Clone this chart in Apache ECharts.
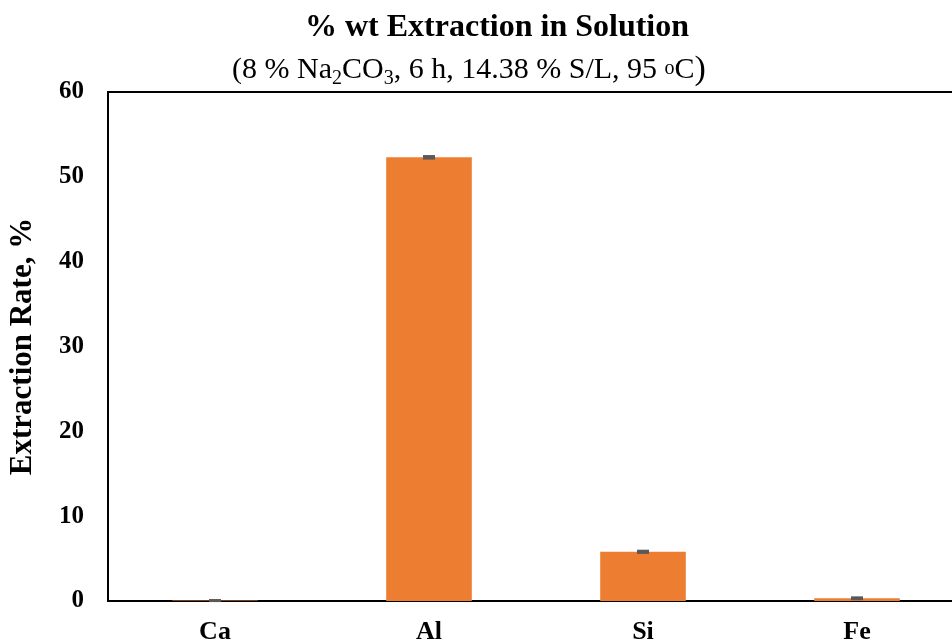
<!DOCTYPE html>
<html>
<head>
<meta charset="utf-8">
<script src="https://cdn.jsdelivr.net/npm/echarts@6/dist/echarts.min.js"></script>
<style>html,body{margin:0;padding:0;background:#fff}#c{width:952px;height:641px}</style>
</head>
<body>
<div id="c"></div>
<script>
const categories = ['Ca', 'Al', 'Si', 'Fe'];
const values = [0.05, 52.3, 5.8, 0.32];
const errors = [0.03, 0.12, 0.1, 0.08];
const yTicks = { min: 0, max: 60, interval: 10 };

const FONT = '"Liberation Serif", "Times New Roman", serif';
const chart = echarts.init(document.getElementById('c'), null, { renderer: 'canvas' });

const errData = categories.map((c, i) => [i, values[i], errors[i]]);

chart.setOption({
  animation: false,
  backgroundColor: '#fff',
  title: [
    {
      text: '% wt Extraction in Solution',
      left: 492, top: 7, textAlign: 'center',
      textStyle: { fontFamily: FONT, fontSize: 32, fontWeight: 'bold', color: '#000' }
    },
    {
      text: '{b|(8 % Na}{sub|2}{b|CO}{sub|3}{b|, 6 h, 14.38 % S/L, 95 }{sup|o}{b|C}{p|)}',
      left: 464, top: 46, textAlign: 'center',
      textStyle: {
        fontFamily: FONT, fontSize: 30, fontWeight: 'normal', color: '#000',
        rich: {
          b: { fontFamily: FONT, fontSize: 30, fontWeight: 'normal', color: '#000', lineHeight: 38, verticalAlign: 'middle' },
          p: { fontFamily: FONT, fontSize: 34, fontWeight: 'normal', color: '#000', lineHeight: 38, verticalAlign: 'middle' },
          sub: { fontFamily: FONT, fontSize: 20, fontWeight: 'normal', color: '#000', lineHeight: 20, verticalAlign: 'bottom' },
          sup: { fontFamily: FONT, fontSize: 20, fontWeight: 'normal', color: '#000', lineHeight: 20, verticalAlign: 'top', padding: [8, 0, 0, 0] }
        }
      }
    }
  ],
  grid: {
    left: 108, top: 92, width: 856, height: 509,
    outerBoundsMode: 'none', containLabel: false,
    show: true, borderColor: '#000', borderWidth: 2, backgroundColor: 'transparent'
  },
  xAxis: {
    type: 'category',
    data: categories,
    axisLine: { show: true, lineStyle: { color: '#000', width: 2 } },
    axisTick: { show: false },
    axisLabel: { fontFamily: FONT, fontSize: 26, fontWeight: 'bold', color: '#000', margin: 18 },
    splitLine: { show: false }
  },
  yAxis: {
    type: 'value',
    min: yTicks.min, max: yTicks.max, interval: yTicks.interval,
    name: 'Extraction Rate, %',
    nameLocation: 'middle', nameGap: 70, nameRotate: 90,
    nameTextStyle: { fontFamily: FONT, fontSize: 31, fontWeight: 'bold', color: '#000' },
    axisLine: { show: true, lineStyle: { color: '#000', width: 2 } },
    axisTick: { show: false },
    axisLabel: { fontFamily: FONT, fontSize: 25, fontWeight: 'bold', color: '#000', margin: 24 },
    splitLine: { show: false }
  },
  series: [
    {
      type: 'bar',
      data: values,
      barWidth: '40%',
      itemStyle: { color: '#ED7D31' },
      z: 2
    },
    {
      type: 'custom',
      data: errData,
      z: 5,
      renderItem: function (params, api) {
        const x = api.value(0);
        const v = api.value(1);
        const e = api.value(2);
        const hi = api.coord([x, v + e]);
        const lo = api.coord([x, v - e]);
        const cap = 6;
        const st = { stroke: '#595959', lineWidth: 2.5 };
        return {
          type: 'group',
          children: [
            { type: 'line', shape: { x1: hi[0], y1: hi[1], x2: lo[0], y2: lo[1] }, style: st },
            { type: 'line', shape: { x1: hi[0] - cap, y1: hi[1], x2: hi[0] + cap, y2: hi[1] }, style: st },
            { type: 'line', shape: { x1: lo[0] - cap, y1: lo[1], x2: lo[0] + cap, y2: lo[1] }, style: st }
          ]
        };
      }
    }
  ]
});
</script>
</body>
</html>
